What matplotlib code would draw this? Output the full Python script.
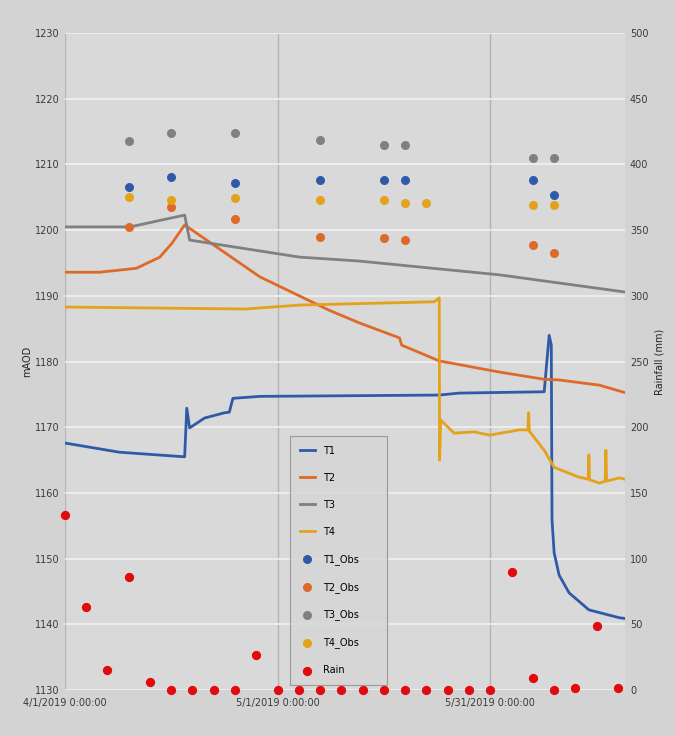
import matplotlib.pyplot as plt

# --- data (x in days from the first date) ---
date_ticks = [0, 30, 60]
date_labels = ["4/1/2019 0:00:00", "5/1/2019 0:00:00", "5/31/2019 0:00:00"]

t1_days = [0, 7.7, 16.9, 17.2, 17.6, 19.7, 22.5, 23.2, 23.7, 27.5, 52.8, 55.6, 67.6,
           68.3, 68.6, 68.7, 69.0, 69.7, 71.1, 73.9, 78.2, 78.9]
t1_level = [1167.6, 1166.2, 1165.5, 1172.9, 1169.9, 1171.4, 1172.2, 1172.3, 1174.4, 1174.7,
            1174.9, 1175.2, 1175.4, 1184.0, 1182.5, 1155.9, 1150.9, 1147.5, 1144.8, 1142.2,
            1141.0, 1140.9]

t2_days = [0, 4.9, 10.1, 13.4, 15.1, 16.9, 27.5, 37.3, 41.5, 47.2, 47.5, 52.8, 61.3, 67.6,
           69.7, 75.4, 78.9]
t2_level = [1193.6, 1193.6, 1194.2, 1195.9, 1198.0, 1200.8, 1192.9, 1187.8, 1185.9, 1183.6,
            1182.5, 1180.1, 1178.4, 1177.3, 1177.2, 1176.4, 1175.3]

t3_days = [0, 9.2, 16.9, 17.6, 33.1, 41.5, 61.3, 78.9]
t3_level = [1200.5, 1200.5, 1202.3, 1198.5, 1195.9, 1195.3, 1193.2, 1190.6]

t4_days = [0, 25.4, 33.1, 52.1, 52.8, 52.85, 53.0, 54.9, 57.7, 59.9, 64.1, 65.3, 65.4,
           65.5, 67.6, 69.0, 72.5, 73.8, 73.9, 74.0, 75.4, 76.2, 76.3, 76.4, 78.2, 78.9]
t4_level = [1188.3, 1188.0, 1188.6, 1189.1, 1189.7, 1165.0, 1171.1, 1169.1, 1169.3, 1168.8,
            1169.6, 1169.6, 1172.2, 1169.4, 1166.5, 1163.9, 1162.4, 1162.1, 1165.8, 1162.0,
            1161.5, 1161.8, 1166.5, 1161.8, 1162.3, 1162.1]

obs_days = [9, 15, 24, 36, 45, 48, 66, 69]
t1_obs = [1206.6, 1208.1, 1207.2, 1207.6, 1207.6, 1207.6, 1207.6, 1205.3]
t2_obs = [1200.5, 1203.5, 1201.7, 1199.0, 1198.8, 1198.5, 1197.7, 1196.5]
t3_obs = [1213.6, 1214.8, 1214.8, 1213.7, 1213.0, 1213.0, 1211.0, 1211.0]
t4_obs_days = [9, 15, 24, 36, 45, 48, 51, 66, 69]
t4_obs = [1205.0, 1204.6, 1204.9, 1204.6, 1204.6, 1204.2, 1204.2, 1203.9, 1203.9]

rain_days = [0, 3, 6, 9, 12, 15, 18, 21, 24, 27, 30, 33, 36, 39, 42, 45, 48, 51, 54,
             57, 60, 63, 66, 69, 72, 75, 78]
rain_mm = [133, 63, 15, 86, 6, 0, 0, 0, 0, 27, 0, 0, 0, 0, 0, 0, 0, 0, 0,
           0, 0, 90, 9, 0, 1.5, 49, 1.5]

blue = "#2f5aa8"
orange = "#dd6a28"
grey = "#808080"
gold = "#e3a21a"
red = "#e20a0a"

fig = plt.figure(figsize=(6.75, 7.36), dpi=100, facecolor="#d3d3d3")
ax = fig.add_axes([0.096, 0.0625, 0.83, 0.8925], facecolor="#d9d9d9")
ax2 = ax.twinx()

l1, = ax.plot(t1_days, t1_level, color=blue, lw=2, label="T1")
l2, = ax.plot(t2_days, t2_level, color=orange, lw=2, label="T2")
l3, = ax.plot(t3_days, t3_level, color=grey, lw=2, label="T3")
l4, = ax.plot(t4_days, t4_level, color=gold, lw=2, label="T4")

s1 = ax.scatter(obs_days, t1_obs, color=blue, s=30, zorder=4, label="T1_Obs")
s2 = ax.scatter(obs_days, t2_obs, color=orange, s=30, zorder=4, label="T2_Obs")
s3 = ax.scatter(obs_days, t3_obs, color=grey, s=30, zorder=4, label="T3_Obs")
s4 = ax.scatter(t4_obs_days, t4_obs, color=gold, s=30, zorder=4, label="T4_Obs")
s5 = ax2.scatter(rain_days, rain_mm, color=red, s=32, zorder=4, label="Rain",
                 clip_on=False)

ax.set_xlim(0, 79)
ax.set_ylim(1130, 1230)
ax2.set_ylim(0, 500)
ax.set_yticks(range(1130, 1231, 10))
ax2.set_yticks(range(0, 501, 50))
ax.set_xticks(date_ticks)
ax.set_xticklabels(date_labels)

ax.grid(axis="y", color="#f0f0f0", lw=1.2)
ax.grid(axis="x", color="#b4b4b4", lw=1)
ax.set_axisbelow(True)
for a in (ax, ax2):
    for sp in a.spines.values():
        sp.set_visible(False)
    a.tick_params(length=0, labelsize=7, colors="#3a3a3a")
ax.tick_params(axis="x", pad=6)

ax.set_ylabel("mAOD", fontsize=7, color="#222222", labelpad=2)
ax2.set_ylabel("Rainfall (mm)", fontsize=7, color="#222222", labelpad=4)

leg = ax2.legend(handles=[l1, l2, l3, l4, s1, s2, s3, s4, s5],
                 loc="lower left", bbox_to_anchor=(0.393, 0.0, 0.19, 0.38),
                 mode="expand", fontsize=7, frameon=True, facecolor="#d6d6d6",
                 edgecolor="#8a8a8a", labelspacing=1.75, borderpad=1.0,
                 handlelength=1.6, fancybox=False)
leg.get_frame().set_linewidth(0.8)
leg.set_zorder(10)

fig.savefig("out.png", dpi=100, facecolor=fig.get_facecolor())
